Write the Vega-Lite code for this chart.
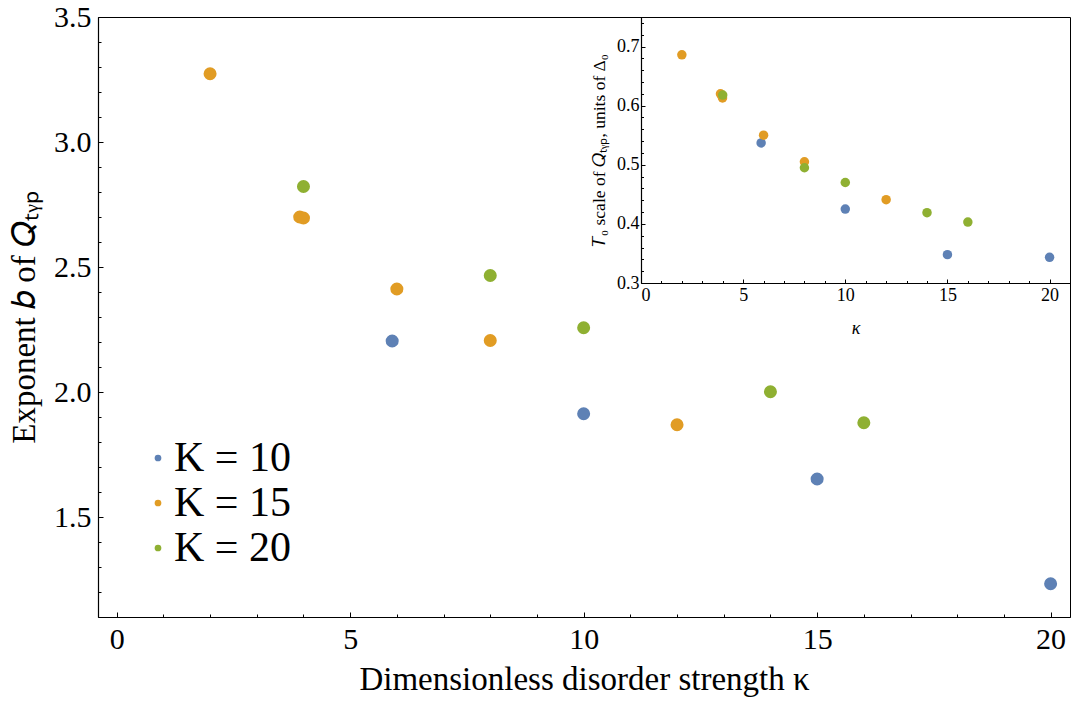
{
  "$schema": "https://vega.github.io/schema/vega-lite/v6.json",
  "width": 972,
  "height": 600,
  "autosize": "none",
  "padding": {"left": 98, "top": 17, "right": 1, "bottom": 89},
  "background": "white",
  "data": {
    "values": [
      {"panel": "main", "K": "K = 10", "kappa": 5.9, "value": 2.204},
      {"panel": "main", "K": "K = 10", "kappa": 10, "value": 1.913},
      {"panel": "main", "K": "K = 10", "kappa": 15, "value": 1.652},
      {"panel": "main", "K": "K = 10", "kappa": 20, "value": 1.233},
      {"panel": "main", "K": "K = 15", "kappa": 2, "value": 3.273},
      {"panel": "main", "K": "K = 15", "kappa": 3.92, "value": 2.700},
      {"panel": "main", "K": "K = 15", "kappa": 4.0, "value": 2.696},
      {"panel": "main", "K": "K = 15", "kappa": 6, "value": 2.412},
      {"panel": "main", "K": "K = 15", "kappa": 8, "value": 2.206},
      {"panel": "main", "K": "K = 15", "kappa": 12, "value": 1.869},
      {"panel": "main", "K": "K = 20", "kappa": 4, "value": 2.822},
      {"panel": "main", "K": "K = 20", "kappa": 8, "value": 2.466},
      {"panel": "main", "K": "K = 20", "kappa": 10, "value": 2.257},
      {"panel": "main", "K": "K = 20", "kappa": 14, "value": 2.001},
      {"panel": "main", "K": "K = 20", "kappa": 16, "value": 1.877},
      {"panel": "inset", "K": "K = 10", "kappa": 5.88, "value": 0.537},
      {"panel": "inset", "K": "K = 10", "kappa": 10, "value": 0.425},
      {"panel": "inset", "K": "K = 10", "kappa": 15, "value": 0.348},
      {"panel": "inset", "K": "K = 10", "kappa": 20, "value": 0.3435},
      {"panel": "inset", "K": "K = 15", "kappa": 2, "value": 0.686},
      {"panel": "inset", "K": "K = 15", "kappa": 3.89, "value": 0.620},
      {"panel": "inset", "K": "K = 15", "kappa": 3.99, "value": 0.613},
      {"panel": "inset", "K": "K = 15", "kappa": 6, "value": 0.550},
      {"panel": "inset", "K": "K = 15", "kappa": 8, "value": 0.505},
      {"panel": "inset", "K": "K = 15", "kappa": 12, "value": 0.441},
      {"panel": "inset", "K": "K = 20", "kappa": 4, "value": 0.618},
      {"panel": "inset", "K": "K = 20", "kappa": 8, "value": 0.495},
      {"panel": "inset", "K": "K = 20", "kappa": 10, "value": 0.470},
      {"panel": "inset", "K": "K = 20", "kappa": 14, "value": 0.419},
      {"panel": "inset", "K": "K = 20", "kappa": 16, "value": 0.403}
    ]
  },
  "layer": [
    {
      "transform": [{"filter": "datum.panel == 'main'"}],
      "mark": {"type": "circle", "size": 170, "opacity": 1},
      "encoding": {
        "x": {
          "field": "kappa", "type": "quantitative",
          "scale": {"domain": [-0.4, 20.415], "nice": false, "zero": false},
          "axis": {
            "orient": "bottom", "values": [0, 5, 10, 15, 20], "format": "d",
            "tickSize": -5, "labelPadding": 12, "labelFontSize": 30,
            "title": "Dimensionless disorder strength κ", "titleFontSize": 33, "titlePadding": 9
          }
        },
        "y": {
          "field": "value", "type": "quantitative",
          "scale": {"domain": [1.1, 3.5], "nice": false, "zero": false},
          "axis": {
            "orient": "left", "values": [1.5, 2.0, 2.5, 3.0, 3.5], "format": ".1f",
            "tickSize": -5, "labelPadding": 12, "labelFontSize": 30,
            "title": "Exponent 𝑏 of 𝑄ₜᵧₚ", "titleFontSize": 33, "titlePadding": 12
          }
        },
        "color": {
          "field": "K", "type": "nominal",
          "scale": {"domain": ["K = 10", "K = 15", "K = 20"], "range": ["#5E81B5", "#E19C24", "#8FB032"]},
          "legend": {
            "orient": "none", "legendX": 39, "legendY": 420, "title": null,
            "symbolType": "circle", "symbolSize": 45, "labelFontSize": 42,
            "labelFont": "Liberation Serif", "labelColor": "black", "labelOffset": -5,
            "rowPadding": 3, "padding": 0, "symbolStrokeWidth": 0
          }
        }
      }
    },
    {
      "transform": [{"filter": "datum.panel == 'main'"}],
      "mark": {"type": "circle", "size": 1, "opacity": 0},
      "encoding": {
        "x": {
          "field": "kappa", "type": "quantitative",
          "scale": {"domain": [-0.4, 20.415], "nice": false, "zero": false},
          "axis": {
            "orient": "bottom", "values": [1, 2, 3, 4, 6, 7, 8, 9, 11, 12, 13, 14, 16, 17, 18, 19],
            "tickSize": -3, "labels": false, "domain": false, "title": null
          }
        },
        "y": {
          "field": "value", "type": "quantitative",
          "scale": {"domain": [1.1, 3.5], "nice": false, "zero": false},
          "axis": {
            "orient": "left",
            "values": [1.2, 1.3, 1.4, 1.6, 1.7, 1.8, 1.9, 2.1, 2.2, 2.3, 2.4, 2.6, 2.7, 2.8, 2.9, 3.1, 3.2, 3.3, 3.4],
            "tickSize": -3, "labels": false, "domain": false, "title": null
          }
        }
      }
    },
    {
      "transform": [{"filter": "datum.panel == 'inset'"}],
      "mark": {"type": "circle", "size": 90, "opacity": 1},
      "encoding": {
        "x": {
          "field": "kappa", "type": "quantitative",
          "scale": {"domain": [0, 21], "range": [543, 972], "nice": false, "zero": false},
          "axis": {
            "orient": "bottom", "offset": -334, "values": [0, 5, 10, 15, 20], "format": "d",
            "tickSize": -4, "labelPadding": 7, "labelFontSize": 18,
            "title": "κ", "titleFontSize": 18, "titleFontStyle": "italic", "titlePadding": 15
          }
        },
        "y": {
          "field": "value", "type": "quantitative",
          "scale": {"domain": [0.3, 0.75], "range": [266, 0], "nice": false, "zero": false},
          "axis": {
            "orient": "left", "offset": -543, "values": [0.3, 0.4, 0.5, 0.6, 0.7], "format": ".1f",
            "tickSize": -4, "labelPadding": 6, "labelFontSize": 18,
            "title": "𝑇₀ scale of 𝑄ₜᵧₚ,  units of Δ₀", "titleFontSize": 17.5, "titlePadding": 8
          }
        },
        "color": {"field": "K", "type": "nominal"}
      }
    },
    {
      "transform": [{"filter": "datum.panel == 'inset'"}],
      "mark": {"type": "circle", "size": 1, "opacity": 0},
      "encoding": {
        "x": {
          "field": "kappa", "type": "quantitative",
          "scale": {"domain": [0, 21], "range": [543, 972], "nice": false, "zero": false},
          "axis": {
            "orient": "bottom", "offset": -334,
            "values": [1, 2, 3, 4, 6, 7, 8, 9, 11, 12, 13, 14, 16, 17, 18, 19],
            "tickSize": -2.5, "labels": false, "domain": false, "title": null
          }
        },
        "y": {
          "field": "value", "type": "quantitative",
          "scale": {"domain": [0.3, 0.75], "range": [266, 0], "nice": false, "zero": false},
          "axis": {
            "orient": "left", "offset": -543,
            "values": [0.32, 0.34, 0.36, 0.38, 0.42, 0.44, 0.46, 0.48, 0.52, 0.54, 0.56, 0.58, 0.62, 0.64, 0.66, 0.68, 0.72, 0.74],
            "tickSize": -2.5, "labels": false, "domain": false, "title": null
          }
        }
      }
    }
  ],
  "resolve": {"scale": {"x": "independent", "y": "independent"}},
  "config": {
    "view": {"stroke": "black", "strokeWidth": 1},
    "axis": {
      "grid": false,
      "labelFont": "Liberation Serif", "titleFont": "Liberation Serif",
      "labelColor": "black", "titleColor": "black",
      "domainColor": "black", "tickColor": "black",
      "titleFontWeight": "normal", "domainWidth": 1.2, "tickWidth": 1
    }
  }
}
